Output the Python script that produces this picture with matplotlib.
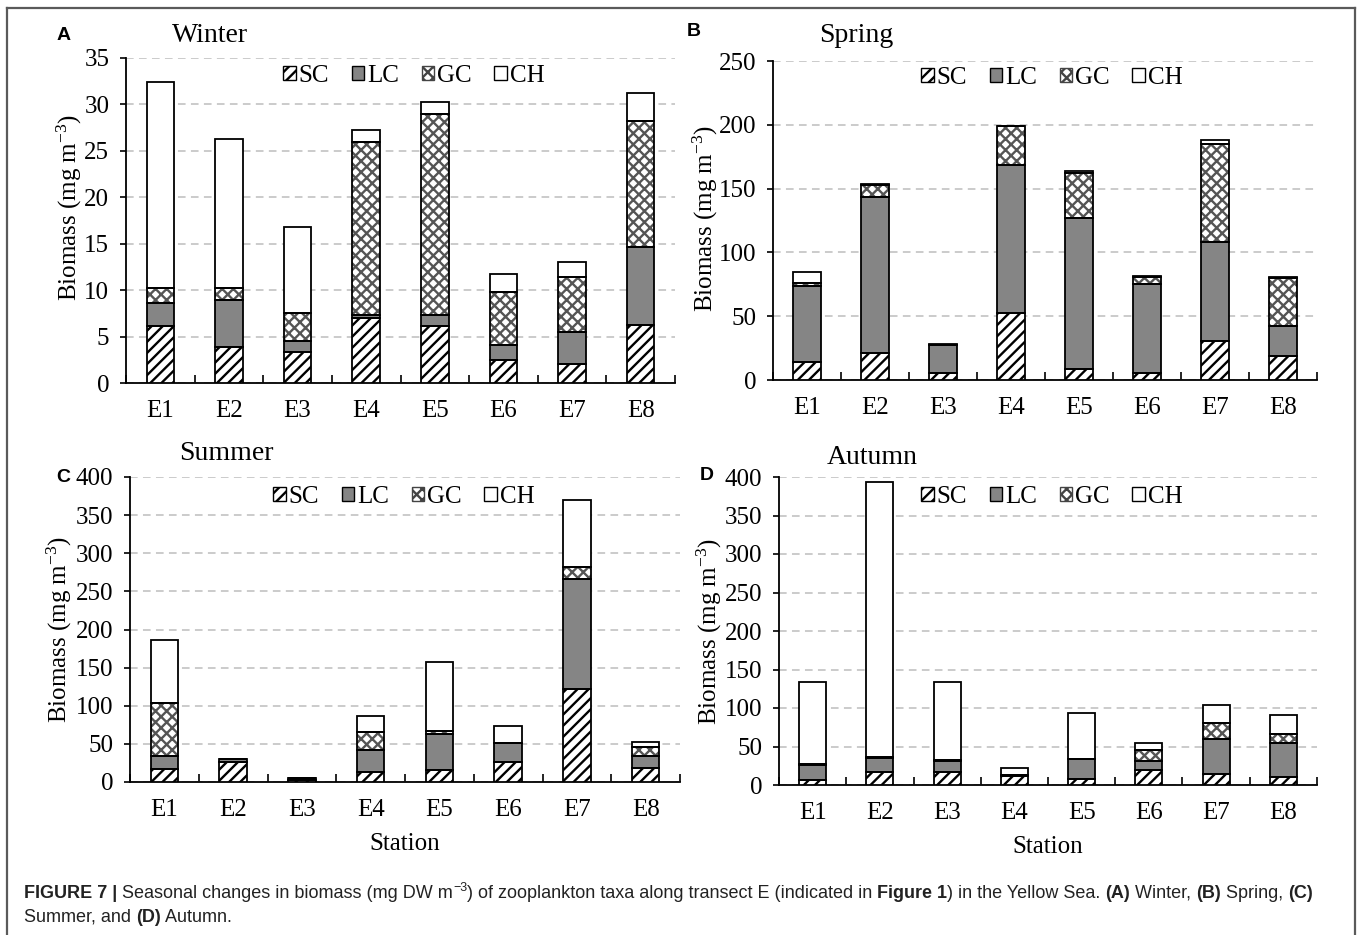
import matplotlib
matplotlib.use('Agg')
import matplotlib.pyplot as plt
from matplotlib.patches import Patch
from matplotlib.lines import Line2D
import numpy as np

plt.rcParams['font.family'] = ['Liberation Serif', 'DejaVu Serif']
plt.rcParams['mathtext.fontset'] = 'custom'
plt.rcParams['mathtext.rm'] = 'Liberation Serif'
plt.rcParams['mathtext.it'] = 'Liberation Serif:italic'
plt.rcParams['mathtext.bf'] = 'Liberation Serif:bold'
plt.rcParams['hatch.linewidth'] = 1.7

stations = ['E1', 'E2', 'E3', 'E4', 'E5', 'E6', 'E7', 'E8']
taxa = ['SC', 'LC', 'GC', 'CH']

# biomass (mg m-3), per taxon and station
winter_sc = [6.1, 3.9, 3.3, 7.0, 6.1, 2.5, 2.0, 6.3]
winter_lc = [2.5, 5.0, 1.2, 0.3, 1.2, 1.6, 3.5, 8.4]
winter_gc = [1.6, 1.3, 3.0, 18.7, 21.7, 5.7, 5.9, 13.5]
winter_ch = [22.2, 16.1, 9.3, 1.3, 1.3, 1.9, 1.6, 3.0]

spring_sc = [13.8, 21.4, 5.2, 52.2, 8.4, 5.2, 30.8, 18.8]
spring_lc = [59.8, 122.1, 22.2, 116.6, 118.2, 70.0, 77.2, 23.5]
spring_gc = [2.6, 9.7, 0.3, 30.1, 35.7, 5.7, 77.3, 37.6]
spring_ch = [8.1, 0.3, 0.2, 0.5, 1.6, 0.5, 3.1, 1.0]

summer_sc = [16.6, 26.7, 2.5, 12.7, 15.3, 26.2, 122.4, 17.9]
summer_lc = [17.5, 3.0, 3.2, 29.3, 47.7, 24.5, 143.8, 16.2]
summer_gc = [69.9, 0.0, 0.0, 23.6, 4.3, 0.0, 16.2, 11.4]
summer_ch = [81.8, 0.0, 0.0, 21.4, 89.6, 22.3, 87.9, 7.4]

autumn_sc = [6.9, 17.3, 17.3, 12.1, 8.2, 19.5, 14.3, 10.8]
autumn_lc = [19.5, 17.8, 13.5, 0.5, 25.2, 11.3, 45.9, 43.8]
autumn_gc = [1.3, 1.3, 1.3, 0.0, 0.0, 15.1, 20.4, 11.3]
autumn_ch = [106.2, 357.1, 101.8, 9.9, 60.6, 9.1, 23.4, 25.5]

LC_GREY = '#858585'
W, H = 1360, 935
FS = 18

fig = plt.figure(figsize=(W / 100, H / 100), dpi=100)


def px_rect(l, r, t, b):
    return [l / W, 1 - b / H, (r - l) / W, (b - t) / H]


def draw_panel(rect, series, ymax, ystep, letter, letter_xy, season, season_xy,
               label_xy, legend_xy, xlabel=False):
    ax = fig.add_axes(px_rect(*rect))
    x = np.arange(len(stations))
    sc, lc, gc, ch = [np.array(s) for s in series]
    bw = 0.4
    ax.bar(x, sc, bw, color='white', edgecolor='black', hatch='///', lw=0, zorder=3)
    ax.bar(x, lc, bw, bottom=sc, color=LC_GREY, lw=0, zorder=3)
    ax.bar(x, gc, bw, bottom=sc + lc, color='white', edgecolor='#555555',
           hatch='xxx', lw=0, zorder=3)
    ax.bar(x, ch, bw, bottom=sc + lc + gc, color='white', lw=0, zorder=3)
    # outlines
    bottom = np.zeros(len(x))
    for s in (sc, lc, gc, ch):
        ax.bar(x, s, bw, bottom=bottom, fill=False, edgecolor='black', lw=1.3, zorder=4)
        bottom = bottom + s

    ax.set_xlim(-0.5, len(x) - 0.5)
    ax.set_ylim(0, ymax)
    ax.set_yticks(np.arange(0, ymax + ystep / 2, ystep))
    ax.set_xticks(x)
    ax.set_xticklabels(stations)
    ax.set_xticks(np.arange(-0.5, len(x), 1.0), minor=True)
    ax.tick_params(axis='x', which='major', length=0, pad=12, labelsize=FS)
    ax.tick_params(axis='x', which='minor', direction='in', length=6, width=1.2)
    ax.tick_params(axis='y', direction='out', length=4, width=1.2, pad=8, labelsize=FS)
    for s in ('top', 'right'):
        ax.spines[s].set_visible(False)
    for s in ('left', 'bottom'):
        ax.spines[s].set_linewidth(1.3)
    ax.yaxis.grid(True, linestyle=(0, (5, 3.5)), color='#bdbdbd', lw=1.1, zorder=0)
    ax.set_axisbelow(True)

    ax.set_ylabel('Biomass (mg m$^{-3}$)', fontsize=FS)
    ax.yaxis.set_label_coords(label_xy[0] / (rect[1] - rect[0]), label_xy[1])
    if xlabel:
        ax.set_xlabel('Station', fontsize=FS, labelpad=9)

    handles = [Patch(facecolor='white', edgecolor='black', hatch='///', lw=1),
               Patch(facecolor=LC_GREY, edgecolor='black', lw=1),
               Patch(facecolor='white', edgecolor='#444444', hatch='xxx', lw=1),
               Patch(facecolor='white', edgecolor='black', lw=1)]
    ax.legend(handles, taxa, loc='center', ncol=4, frameon=False,
              bbox_to_anchor=(legend_xy[0] / W, 1 - legend_xy[1] / H),
              bbox_transform=fig.transFigure, fontsize=FS,
              handlelength=0.5, handleheight=0.5, handletextpad=0.12,
              columnspacing=0.9, borderaxespad=0)

    fig.text(letter_xy[0] / W, 1 - letter_xy[1] / H, letter, family='Liberation Sans',
             weight='bold', fontsize=14, ha='center', va='center')
    fig.text(season_xy[0] / W, 1 - season_xy[1] / H, season, fontsize=20,
             ha='center', va='center')
    return ax


draw_panel((126, 675, 58, 383), (winter_sc, winter_lc, winter_gc, winter_ch), 35, 5,
           'A', (64, 36), 'Winter', (210, 35), (-42, 0.54), (414, 76))
draw_panel((773, 1317, 61, 380), (spring_sc, spring_lc, spring_gc, spring_ch), 250, 50,
           'B', (694, 32), 'Spring', (856, 35), (-53, 0.505), (1052, 78))
draw_panel((130, 680, 477, 782), (summer_sc, summer_lc, summer_gc, summer_ch), 400, 50,
           'C', (63, 477), 'Summer', (226, 453), (-56, 0.50), (404, 497), xlabel=True)
draw_panel((779, 1317, 477, 785), (autumn_sc, autumn_lc, autumn_gc, autumn_ch), 400, 50,
           'D', (707, 476), 'Autumn', (872, 457), (-55, 0.50), (1052, 497), xlabel=True)

# frame around the figure
border = dict(transform=fig.transFigure, color='#5a5a5a', lw=1.6)
fig.add_artist(Line2D([7 / W, 7 / W], [0, 1 - 8 / H], **border))
fig.add_artist(Line2D([1355 / W, 1355 / W], [0, 1 - 8 / H], **border))
fig.add_artist(Line2D([7 / W, 1355 / W], [1 - 8 / H, 1 - 8 / H], **border))

# caption, written piece by piece to mix bold and regular
renderer = fig.canvas.get_renderer()


def caption_line(pieces, x0, y0):
    x = x0
    for txt, bold, sup in pieces:
        size = 9 if sup else 13
        y = y0 - (7 if sup else 0)
        t = fig.text(x / W, 1 - y / H, txt, family='Liberation Sans', color='#222222',
                     weight='bold' if bold else 'normal', fontsize=size,
                     ha='left', va='baseline')
        x += t.get_window_extent(renderer).width


caption_line([('FIGURE 7 | ', True, False),
              ('Seasonal changes in biomass (mg DW m', False, False),
              ('\u22123', False, True),
              (') of zooplankton taxa along transect E (indicated in ', False, False),
              ('Figure 1', True, False),
              (') in the Yellow Sea. ', False, False),
              ('(A)', True, False), (' Winter, ', False, False),
              ('(B)', True, False), (' Spring, ', False, False),
              ('(C)', True, False)], 24, 898)
caption_line([('Summer, and ', False, False), ('(D)', True, False),
              (' Autumn.', False, False)], 24, 922)

fig.savefig('out.png', dpi=100)
